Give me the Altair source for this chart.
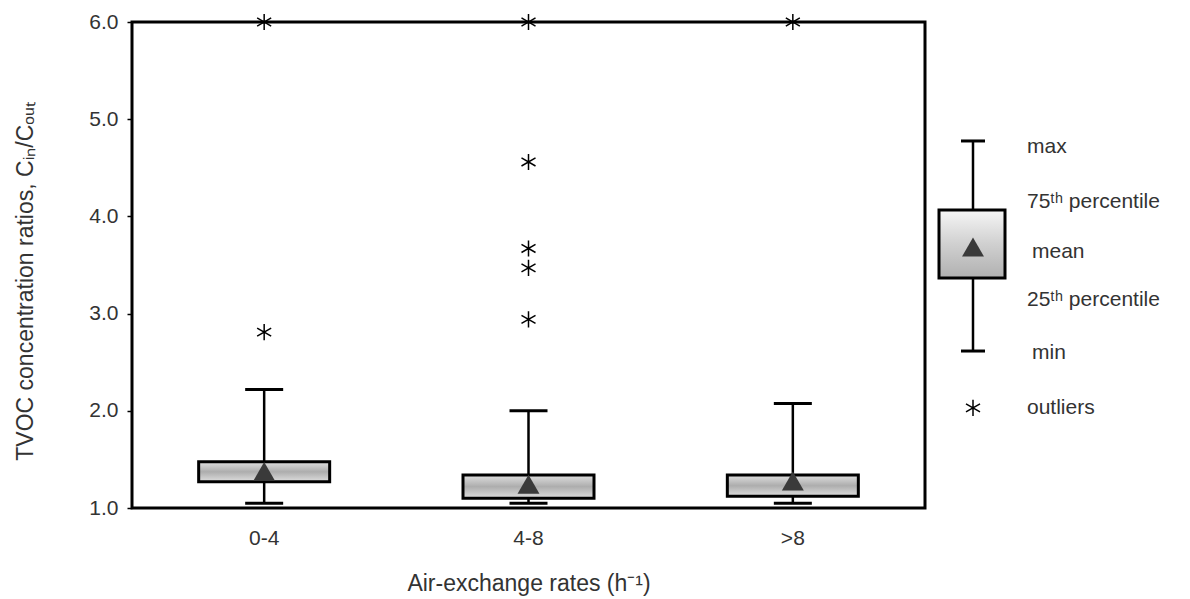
import altair as alt
import pandas as pd

# ---- data ----
categories = ["0-4", "4-8", ">8"]
box_q1 = [1.27, 1.10, 1.12]
box_q3 = [1.475, 1.34, 1.34]
whisk_min = [1.05, 1.05, 1.05]
whisk_max = [2.22, 2.00, 2.075]
means = [1.375, 1.245, 1.277]

outlier_cat = ["0-4", "0-4", "4-8", "4-8", "4-8", "4-8", "4-8", ">8"]
outlier_val = [6.0, 2.81, 6.0, 4.56, 3.67, 3.47, 2.94, 6.0]

y_ticks = [1, 2, 3, 4, 5, 6]

# legend key (schematic sample box, in the y units of the plot)
legend_labels = ["max", "75ᵗʰ percentile", "mean", "25ᵗʰ percentile", "min", "outliers"]
legend_label_y = [4.71, 4.15, 3.63, 3.14, 2.595, 2.03]
legend_label_x = [100, 100, 105, 100, 105, 100]
legend_box = {"min": 2.615, "q1": 3.366, "mean": 3.685, "q3": 4.066, "max": 4.776, "star": 2.03}

FONT = "Liberation Sans"
TXT = "#333333"
W, H = 793, 486
STAR = "M0,-1L0,1M-0.87,-0.5L0.87,0.5M-0.87,0.5L0.87,-0.5"

stats = pd.DataFrame({"cat": categories, "q1": box_q1, "q3": box_q3,
                      "lo": whisk_min, "hi": whisk_max, "mean": means})
caps = pd.DataFrame({"cat": categories + categories, "v": whisk_min + whisk_max})
outl = pd.DataFrame({"cat": outlier_cat, "v": outlier_val})

xenc = alt.X("cat:N", sort=categories,
             scale=alt.Scale(domain=categories, paddingInner=0, paddingOuter=0),
             axis=alt.Axis(title="Air-exchange rates (h⁻¹)", labelAngle=0, ticks=False,
                           domain=False, labelPadding=19, titlePadding=24,
                           labelFontSize=21, titleFontSize=23, labelFont=FONT, titleFont=FONT,
                           labelColor=TXT, titleColor=TXT, titleFontWeight="normal"))
yscale = alt.Scale(domain=[1, 6], nice=False, zero=False)
yaxis = alt.Axis(title="TVOC concentration ratios, Cᵢₙ/Cₒᵤₜ", values=y_ticks, format=".1f",
                 tickSize=5, tickWidth=1.5, tickColor="black", domain=False, grid=False,
                 labelPadding=9, titlePadding=51, labelFontSize=21, titleFontSize=23,
                 labelFont=FONT, titleFont=FONT, labelColor=TXT, titleColor=TXT,
                 titleFontWeight="normal", titleY=259)

grad = alt.LinearGradient(gradient="linear", x1=0, x2=0, y1=0, y2=1,
                          stops=[alt.GradientStop(offset=0, color="#e0e0e0"),
                                 alt.GradientStop(offset=0.5, color="#adadad"),
                                 alt.GradientStop(offset=1, color="#dedede")])

whisk = alt.Chart(stats).mark_rule(color="black", strokeWidth=2.5).encode(
    x=xenc, y=alt.Y("lo:Q", scale=yscale, axis=yaxis), y2="hi:Q")
box = alt.Chart(stats).mark_bar(size=131, fill=grad, stroke="black", strokeWidth=3).encode(
    x=xenc, y=alt.Y("q1:Q", scale=yscale), y2="q3:Q")
capm = alt.Chart(caps).mark_tick(size=38, thickness=3, color="black", opacity=1).encode(
    x=xenc, y=alt.Y("v:Q", scale=yscale))
meanm = alt.Chart(stats).mark_point(shape="triangle-up", filled=True, size=480,
                                    color="#3a3a3a", opacity=1).encode(
    x=xenc, y=alt.Y("mean:Q", scale=yscale))
outm = alt.Chart(outl).mark_point(shape=STAR, filled=False, size=260, color="black",
                                  strokeWidth=1.5, opacity=1).encode(
    x=xenc, y=alt.Y("v:Q", scale=yscale))

main = alt.layer(whisk, box, capm, meanm, outm).properties(
    width=W, height=H, view=alt.ViewBackground(stroke="black", strokeWidth=3))

# ---- legend (key) ----
lx = alt.Scale(domain=[0, 255], nice=False, zero=False)
ly = alt.Scale(domain=[1, 6], nice=False, zero=False)
lb = pd.DataFrame([{**legend_box, "cx": 46, "bx1": 12, "bx2": 78}])
lcaps = pd.DataFrame({"v": [legend_box["min"], legend_box["max"]], "cl": [34, 34], "cr": [58, 58]})
ltext = pd.DataFrame({"t": legend_labels, "x": legend_label_x, "y": legend_label_y})

lgrad = alt.LinearGradient(gradient="linear", x1=0, x2=0, y1=0, y2=1,
                           stops=[alt.GradientStop(offset=0, color="#f6f6f6"),
                                  alt.GradientStop(offset=0.5, color="#d0d0d0"),
                                  alt.GradientStop(offset=1, color="#b0b0b0")])

l_wh = alt.Chart(lb).mark_rule(color="black", strokeWidth=2.5).encode(
    x=alt.X("cx:Q", scale=lx, axis=None), y=alt.Y("min:Q", scale=ly, axis=None), y2="max:Q")
l_box = alt.Chart(lb).mark_rect(fill=lgrad, stroke="black", strokeWidth=3).encode(
    x=alt.X("bx1:Q", scale=lx, axis=None), x2="bx2:Q",
    y=alt.Y("q1:Q", scale=ly, axis=None), y2="q3:Q")
l_caps = alt.Chart(lcaps).mark_rule(color="black", strokeWidth=3).encode(
    x=alt.X("cl:Q", scale=lx, axis=None), x2="cr:Q", y=alt.Y("v:Q", scale=ly, axis=None))
l_mean = alt.Chart(lb).mark_point(shape="triangle-up", filled=True, size=480,
                                  color="#3a3a3a", opacity=1).encode(
    x=alt.X("cx:Q", scale=lx, axis=None), y=alt.Y("mean:Q", scale=ly, axis=None))
l_star = alt.Chart(lb).mark_point(shape=STAR, filled=False, size=260, color="black",
                                  strokeWidth=1.5, opacity=1).encode(
    x=alt.X("cx:Q", scale=lx, axis=None), y=alt.Y("star:Q", scale=ly, axis=None))
l_text = alt.Chart(ltext).mark_text(align="left", baseline="middle", font=FONT,
                                    fontSize=21, color=TXT).encode(
    x=alt.X("x:Q", scale=lx, axis=None), y=alt.Y("y:Q", scale=ly, axis=None), text="t:N")

legend = alt.layer(l_wh, l_box, l_caps, l_mean, l_star, l_text).properties(
    width=255, height=H, view=alt.ViewBackground(strokeOpacity=0))

chart = alt.hconcat(main, legend, spacing=0).configure(
    background="white", padding={"top": 1, "left": 5, "right": 0, "bottom": 0})

chart.save("out.html", embed_options={"renderer": "svg", "actions": False})
